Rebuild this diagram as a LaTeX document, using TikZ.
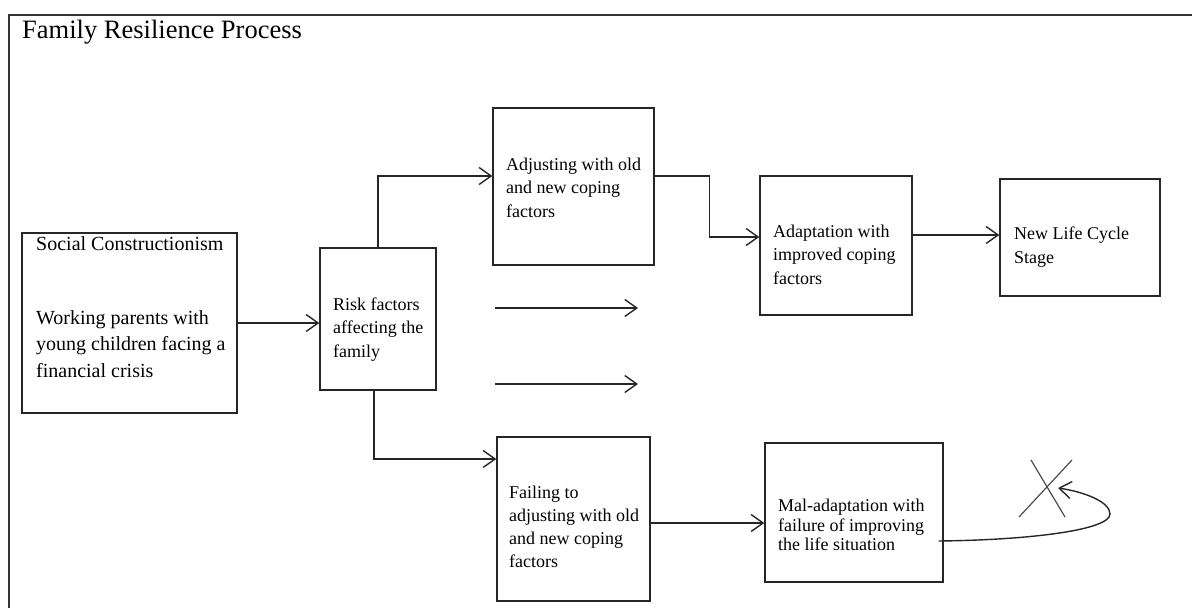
\documentclass[tikz,border=0pt]{standalone}
\usepackage{fontspec}
\setmainfont{Liberation Serif}
\usetikzlibrary{arrows.meta,calc}
\begin{document}
\begin{tikzpicture}[x=1pt,y=-1pt,
  box/.style={draw=black!85, line width=1.4pt, rectangle, inner sep=0pt},
  txt/.style={anchor=base west, align=left, inner sep=0pt, font=\fontsize{18}{23.5}\selectfont},
  arr/.style={draw=black!85, line width=1.4pt, -{Straight Barb[length=12pt,width=17pt,line width=1.4pt]}},
  xline/.style={draw=black!70, line width=1.2pt}
  ]
\useasboundingbox (0,0) rectangle (1192,608);
\draw[line width=2pt, black!80] (1192,15) -- (9,15) -- (9,608);
\node[anchor=base west, inner sep=0pt, font=\fontsize{26.5}{30}\selectfont] (title) at (22,38) {Family Resilience Process};

% boxes
\node[box, minimum width=215pt, minimum height=180pt] (soc) at (129.5,323) {};
\node[box, minimum width=116pt, minimum height=142pt] (risk) at (378,319) {};
\node[box, minimum width=161pt, minimum height=157pt] (adj) at (573.5,186.5) {};
\node[box, minimum width=152pt, minimum height=139pt] (adap) at (836,245.5) {};
\node[box, minimum width=160pt, minimum height=117pt] (new) at (1080,237.5) {};
\node[box, minimum width=153pt, minimum height=164pt] (fail) at (573.5,519) {};
\node[box, minimum width=178pt, minimum height=139pt] (mal) at (854,512.5) {};

% texts (anchor = baseline of the last line)
\node[txt, font=\fontsize{20}{26.5}\selectfont] (socT1) at (36,250) {Social Constructionism};
\node[txt, font=\fontsize{20}{26.5}\selectfont] (socT2) at (36,377) {Working parents with\\young children facing a\\financial crisis};
\node[txt] (riskT) at (333,357) {Risk factors\\affecting the\\family};
\node[txt] (adjT) at (506,217) {Adjusting with old\\and new coping\\factors};
\node[txt] (adapT) at (773,284) {Adaptation with\\improved coping\\factors};
\node[txt] (newT) at (1014,263) {New Life Cycle\\Stage};
\node[txt, font=\fontsize{18}{23}\selectfont] (failT) at (509,567) {Failing to\\adjusting with old\\and new coping\\factors};
\node[txt, font=\fontsize{18}{19.5}\selectfont] (malT) at (778,550.5) {Mal-adaptation with\\failure of improving\\the life situation};

% connectors
\draw[arr] (soc.east) -- (soc.east -| risk.west);
\draw[arr] (risk.north) |- ([yshift=10.5pt]adj.west);
\draw[arr] ([xshift=-4pt]risk.south) |- ([yshift=60pt]fail.west);
\draw[arr] ([yshift=10.5pt]adj.east) -- ++(55,0) |- ([yshift=8.5pt]adap.west);
\draw[arr] ([yshift=10.5pt]adap.east) -- ([yshift=10.5pt]adap.east -| new.west);
\draw[arr] ([yshift=-4pt]fail.east) -- ([yshift=-4pt]fail.east -| mal.west);

\coordinate (f1s) at (495,308);
\coordinate (f1e) at (638,308);
\coordinate (f2s) at (495,384);
\coordinate (f2e) at (638,384);
\draw[arr] (f1s) -- (f1e);
\draw[arr] (f2s) -- (f2e);

\coordinate (cs) at ([xshift=-5pt,yshift=-28.5pt]mal.east);
\coordinate (cm) at (1110,514);
\coordinate (ce) at (1058,488);
\draw[arr] (cs) .. controls (1030,540) and (1110,530) .. (cm) .. controls (1110,502) and (1085,492) .. (ce);

\coordinate (xa1) at (1031,460);
\coordinate (xa2) at (1065,517);
\coordinate (xb1) at (1072,460);
\coordinate (xb2) at (1019,517);
\draw[xline] (xa1) -- (xa2);
\draw[xline] (xb1) -- (xb2);
\end{tikzpicture}
\end{document}
